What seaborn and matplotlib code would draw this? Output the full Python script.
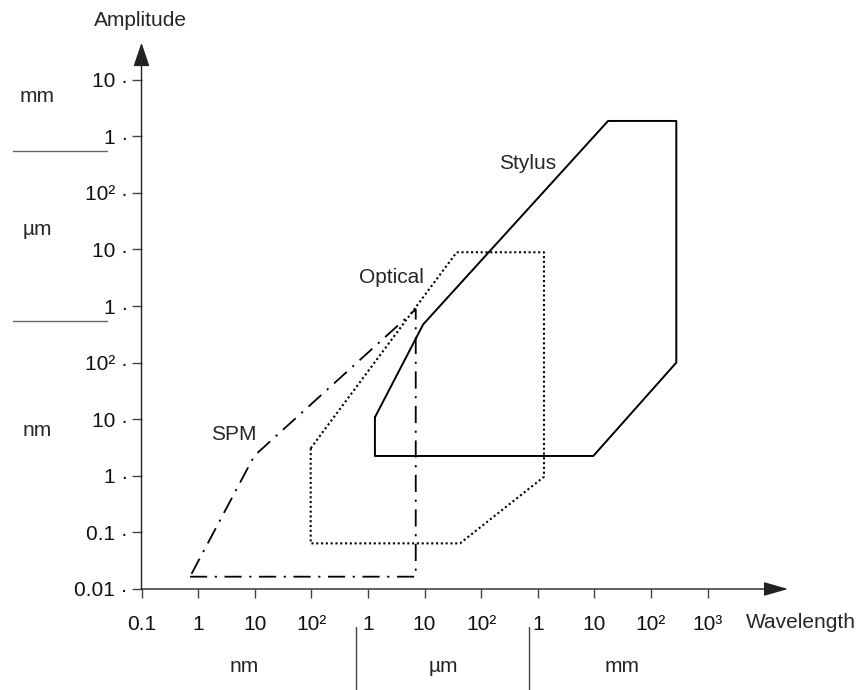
import numpy as np
import pandas as pd
import seaborn as sns
import matplotlib.pyplot as plt
from matplotlib.lines import Line2D

# measurement ranges (wavelength, amplitude) in metres, closed polygons
stylus_wl = [1.33e-6, 1.33e-6, 9.6e-3, 0.281, 0.281, 1.75e-2, 9.5e-6, 1.33e-6]
stylus_amp = [1.08e-8, 2.24e-9, 2.24e-9, 1.0e-7, 1.86e-3, 1.86e-3, 4.75e-7, 1.08e-8]

optical_wl = [9.75e-8, 9.75e-8, 4.24e-5, 1.29e-3, 1.29e-3, 3.7e-5, 9.75e-8]
optical_amp = [3.06e-9, 6.4e-11, 6.4e-11, 9.6e-10, 8.9e-6, 8.9e-6, 3.06e-9]

spm_wl = [7.2e-10, 7.0e-6, 7.0e-6, 9.85e-9, 7.2e-10]
spm_amp = [1.65e-11, 1.65e-11, 8.75e-7, 2.26e-9, 1.65e-11]

x_ticks = [1e-10, 1e-9, 1e-8, 1e-7, 1e-6, 1e-5, 1e-4, 1e-3, 1e-2, 1e-1, 1e0]
x_labels = ["0.1", "1", "10", "10²", "1", "10", "10²", "1", "10", "10²", "10³"]
y_ticks = [1e-11, 1e-10, 1e-9, 1e-8, 1e-7, 1e-6, 1e-5, 1e-4, 1e-3, 1e-2]
y_labels = ["0.01", "0.1", "1", "10", "10²", "1", "10", "10²", "1", "10"]

df = pd.concat([
    pd.DataFrame({"wavelength": stylus_wl, "amplitude": stylus_amp, "method": "Stylus"}),
    pd.DataFrame({"wavelength": optical_wl, "amplitude": optical_amp, "method": "Optical"}),
    pd.DataFrame({"wavelength": spm_wl, "amplitude": spm_amp, "method": "SPM"}),
], ignore_index=True)

sns.set_theme(style="white")
plt.rcParams['font.family'] = ['Liberation Sans', 'DejaVu Sans']
FS = 15

W, H = 859, 690
fig = plt.figure(figsize=(W / 100, H / 100), dpi=100)
ax = fig.add_axes([141.5 / W, (H - 589) / H, (788 - 141.5) / W, (589 - 42.7) / H])
ax.set_xscale('log')
ax.set_yscale('log')

styles = {"Stylus": dict(linestyle='-', linewidth=1.4),
          "Optical": dict(linestyle=(0, (1, 1.3)), linewidth=1.5),
          "SPM": dict(linestyle=(0, (9.5, 4.2, 1.2, 4.2)), linewidth=1.3)}
for name, kw in styles.items():
    sns.lineplot(data=df[df.method == name], x="wavelength", y="amplitude",
                 sort=False, estimator=None, color='black', ax=ax, **kw)

ax.set_xlim(1e-10, 10 ** 1.422)
ax.set_ylim(1e-11, 10 ** -1.348)
ax.set_xlabel("")
ax.set_ylabel("")
for s in ax.spines.values():
    s.set_visible(False)

ax.set_xticks(x_ticks, labels=x_labels)
ax.set_yticks(y_ticks, labels=[l + " ·" for l in y_labels])
ax.minorticks_off()
ax.tick_params(axis='x', bottom=True, direction='out', length=6.5, width=1,
               color='#444', pad=12.3, labelsize=FS, labelcolor='#111')
ax.tick_params(axis='y', left=True, direction='out', length=7.2, width=1,
               color='#444', pad=2.7, labelsize=FS, labelcolor='#111')

# axis arrows
ax.annotate('', xy=(0, 1), xytext=(0, 0), xycoords='axes fraction',
            arrowprops=dict(arrowstyle='-|>,head_length=1.48,head_width=0.5',
                            color='#222', lw=1, shrinkA=0, shrinkB=0, mutation_scale=10),
            annotation_clip=False)
ax.annotate('', xy=(1, 0), xytext=(0, 0), xycoords='axes fraction',
            arrowprops=dict(arrowstyle='-|>,head_length=1.5,head_width=0.43',
                            color='#222', lw=1, shrinkA=0, shrinkB=0, mutation_scale=10),
            annotation_clip=False)

# curve labels
ax.text(4.2e-9, 5.3e-9, "SPM", ha='center', va='center', fontsize=FS)
ax.text(2.56e-6, 3.16e-6, "Optical", ha='center', va='center', fontsize=FS)
ax.text(6.7e-4, 3.3e-4, "Stylus", ha='center', va='center', fontsize=FS)

# axis titles and unit bands
fig.text(140 / W, 1 - 20 / H, "Amplitude", ha='center', va='center', fontsize=FS)
fig.text(746 / W, 1 - 623 / H, "Wavelength", ha='left', va='center', fontsize=FS)
for txt, y in [("mm", 97), ("µm", 230), ("nm", 430)]:
    fig.text(37 / W, 1 - y / H, txt, ha='center', va='center', fontsize=FS)
for txt, x in [("nm", 244), ("µm", 443), ("mm", 622)]:
    fig.text(x / W, 1 - 667 / H, txt, ha='center', va='center', fontsize=FS)

for y in [150.7, 320.7]:
    fig.add_artist(Line2D([13.3 / W, 107.3 / W], [1 - y / H, 1 - y / H],
                          transform=fig.transFigure, color='#666', lw=1))
for x in [356, 529.3]:
    fig.add_artist(Line2D([x / W, x / W], [1 - 627 / H, 0],
                          transform=fig.transFigure, color='#444', lw=1))

fig.savefig("out.png", dpi=100)
